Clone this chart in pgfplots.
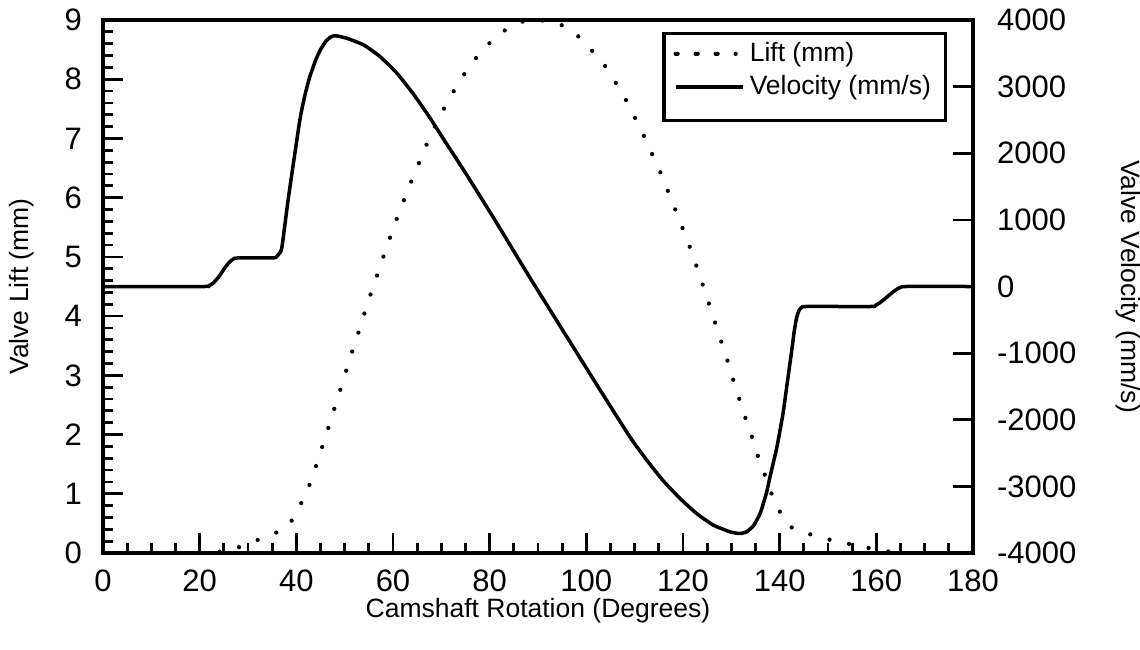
\documentclass[border=0pt]{standalone}
\usepackage{fontspec}
\setmainfont{Liberation Sans}
\usepackage{pgfplots}
\usepackage{pgfplotstable}
\pgfplotsset{compat=1.18}

% valve lift (mm) vs camshaft angle (deg)
\pgfplotstableread{
deg   lift
20.0  0.000
22.0  0.005
24.0  0.020
25.6  0.040
27.5  0.080
29.4  0.135
31.0  0.190
33.2  0.260
35.0  0.320
37.2  0.390
38.5  0.480
39.8  0.650
41.0  0.840
41.8  0.960
43.3  1.280
44.6  1.600
45.9  1.930
47.2  2.260
48.4  2.580
49.7  2.910
50.9  3.240
52.2  3.560
53.5  3.890
54.7  4.210
56.1  4.540
57.4  4.860
58.8  5.190
60.2  5.520
61.7  5.840
63.2  6.160
64.8  6.470
66.4  6.790
68.1  7.110
70.0  7.420
72.0  7.720
74.2  8.020
76.6  8.300
79.2  8.550
82.5  8.790
86.1  8.960
90.0  9.000
94.2  8.940
98.0  8.750
103.5 8.270
108.0 7.680
111.8 7.060
115.3 6.430
118.5 5.780
121.5 5.150
124.2 4.500
126.8 3.850
129.4 3.200
130.6 2.870
131.9 2.540
133.2 2.210
134.6 1.880
135.8 1.560
137.3 1.240
138.7 0.920
140.6 0.610
142.2 0.450
143.7 0.370
145.5 0.330
147.7 0.290
151.8 0.190
155.8 0.135
159.3 0.068
162.0 0.030
165.6 0.005
}\lifttable

% valve velocity (mm/s) vs camshaft angle (deg)
\pgfplotstableread{
deg    vel
0.0    0
21.0   0
21.8   8
22.8   50
24.0   150
25.2   280
26.2   370
27.0   415
27.8   428
35.3   430
35.9   445
36.4   490
37.0   580
38.3   1300
39.5   1900
40.8   2530
41.8   2880
42.8   3150
44.0   3400
45.0   3555
46.0   3670
47.0   3740
48.0   3765
50.4   3727
53.9   3627
57.3   3452
60.8   3202
64.2   2891
67.7   2526
71.1   2140
74.6   1750
81.5   949
88.4   123
95.3   -678
102.2  -1479
109.0  -2256
112.5  -2606
115.9  -2916
119.4  -3182
122.8  -3407
126.3  -3582
129.7  -3682
131.5  -3707
132.4  -3700
133.2  -3680
134.6  -3590
136.0  -3400
137.3  -3090
138.0  -2857
139.4  -2420
140.7  -1904
141.6  -1430
142.5  -960
143.0  -680
143.5  -470
144.0  -360
144.6  -310
145.5  -300
159.0  -300
159.8  -285
160.8  -240
162.0  -170
163.3  -90
164.5  -30
165.3  -5
166.0  0
180.0  0
}\veltable

\pgfplotsset{
  camaxis/.style={
    at={(0,0)}, anchor=south west,
    scale only axis, width=348pt, height=213.2pt,
    xmin=0, xmax=180,
    font=\fontsize{10.6}{12.7}\selectfont,
    tick label style={font=\fontsize{12.4}{14}\selectfont},
    /pgf/number format/assume math mode=true,
    /pgf/number format/1000 sep={},
    tick align=inside,
    major tick length=8pt, minor tick length=4pt,
    every tick/.style={black, line width=1.1pt},
    axis line style={line width=1.4pt},
  },
  liftstyle/.style={black, line width=1.7pt, line cap=round, dash pattern=on 0pt off 8pt},
  velstyle/.style={black, line width=1.4pt, line join=round},
  lift legend/.style={legend image code/.code={%
    \path (0pt,0pt) -- (26.8pt,0pt);
    \draw[##1] (0.8pt,0pt) -- (17.6pt,0pt);}},
}

\begin{document}
\begin{tikzpicture}
\begin{axis}[camaxis,
    ymin=0, ymax=9,
    xtick={0,20,...,180}, minor x tick num=3,
    ytick={0,1,...,9}, minor y tick num=4,
    xtick pos=bottom, ytick pos=left,
    xticklabel style={inner sep=1pt, yshift=-5.6pt},
    yticklabel style={xshift=-4.9pt},
    xlabel={Camshaft Rotation (Degrees)},
    xlabel style={at={(axis description cs:0.5,0)}, anchor=center, inner sep=1pt, yshift=-23pt},
    ylabel={Valve Lift (mm)},
    ylabel style={at={(axis description cs:0,0.5)}, anchor=center, yshift=32.4pt},
    legend style={at={(1,1)}, anchor=north east, xshift=-10.4pt, yshift=-4.8pt,
      draw=black, line width=1.3pt, fill=white,
      inner xsep=3.8pt, inner ysep=1.5pt, row sep=0pt,
      font=\fontsize{10.6}{12.7}\selectfont},
    legend cell align=left,
    legend image code/.code={\path (0pt,0pt) -- (26.8pt,0pt); \draw[#1] (0pt,0pt) -- (24.8pt,0pt);},
  ]
  \addplot[liftstyle, lift legend, smooth, tension=0.3] table[x=deg, y=lift] {\lifttable};
  \addlegendentry{Lift (mm)}
  \addlegendimage{velstyle}
  \addlegendentry{Velocity (mm/s)}
  \addlegendimage{empty legend}
  \addlegendentry{}
\end{axis}
\begin{axis}[camaxis,
    ymin=-4000, ymax=4000,
    hide x axis,
    axis y line*=right,
    y axis line style={-},
    ytick={-4000,-3000,...,4000}, minor y tick num=0,
    yticklabel style={anchor=west, xshift=6.1pt},
    ylabel={Valve Velocity (mm/s)},
    ylabel style={at={(axis description cs:1,0.5)}, anchor=center, rotate=180, yshift=62pt},
  ]
  \addplot[velstyle, smooth, tension=0.3] table[x=deg, y=vel] {\veltable};
\end{axis}
\pgfresetboundingbox
\path[use as bounding box] (-41.2pt,-38.8pt) rectangle (414.8pt,221.2pt);
\end{tikzpicture}
\end{document}
